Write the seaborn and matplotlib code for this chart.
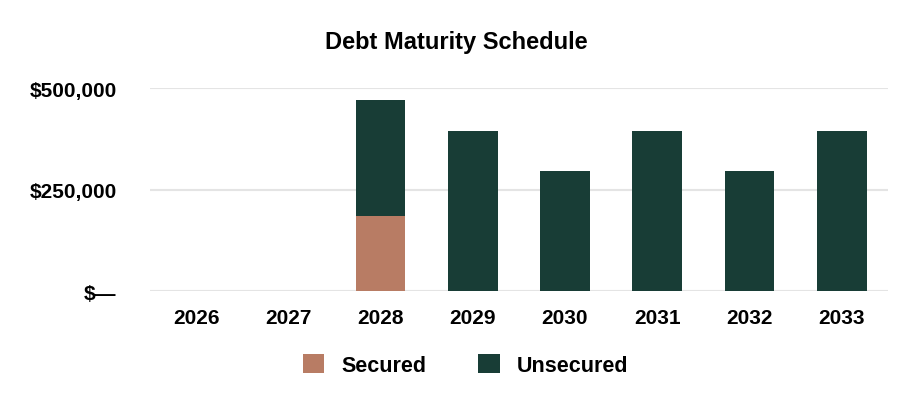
import matplotlib
matplotlib.use("Agg")
import matplotlib.pyplot as plt
import seaborn as sns
import pandas as pd
from matplotlib.patches import Patch
from matplotlib.ticker import FuncFormatter

years = ["2026", "2027", "2028", "2029", "2030", "2031", "2032", "2033"]
secured = [0, 0, 185000, 0, 0, 0, 0, 0]
unsecured = [0, 0, 285000, 395000, 296000, 395000, 296000, 395000]
title = "Debt Maturity Schedule"
series_names = ["Secured", "Unsecured"]
colors = {"Secured": "#B87C64", "Unsecured": "#183D36"}

sns.set_theme(style="white")
plt.rcParams["font.family"] = ["Liberation Sans", "DejaVu Sans"]

df = pd.DataFrame({
    "year": years,
    "secured": secured,
    "unsecured": unsecured,
})
df["total"] = df["secured"] + df["unsecured"]

fig = plt.figure(figsize=(9.2, 4.02), dpi=100)
ax = fig.add_axes([0.163, 0.2724, 0.802, 0.5055])

sns.barplot(data=df, x="year", y="total", color=colors["Unsecured"],
            width=0.54, ax=ax, saturation=1, linewidth=0, zorder=3)
sns.barplot(data=df, x="year", y="secured", color=colors["Secured"],
            width=0.54, ax=ax, saturation=1, linewidth=0, zorder=4)

ax.set_xlim(-0.5, len(years) - 0.5)
ax.set_ylim(0, 500000)
ax.set_yticks([0, 250000, 500000])
ax.yaxis.set_major_formatter(FuncFormatter(lambda v, p: "$\u2014" if v == 0 else f"${v:,.0f}"))
ax.grid(axis="y", color="#e4e4e4", linewidth=1.5, zorder=0)
ax.set_axisbelow(True)
for s in ax.spines.values():
    s.set_visible(False)
ax.tick_params(axis="both", length=0, labelsize=15)
ax.tick_params(axis="y", pad=24)
ax.tick_params(axis="x", pad=12)
for lab in ax.get_xticklabels() + ax.get_yticklabels():
    lab.set_fontweight("bold")
    lab.set_color("black")
ax.set_xlabel("")
ax.set_ylabel("")

fig.text(0.496, 0.895, title, ha="center", va="center", fontsize=17,
         fontweight="bold", color="black")

handles = [Patch(facecolor=colors[n], edgecolor="none", label=n) for n in series_names]
leg = fig.legend(handles=handles, loc="center", bbox_to_anchor=(0.506, 0.0896), ncol=2,
                 frameon=False, handlelength=1.0, handleheight=1.0, handletextpad=0.8,
                 columnspacing=2.4, prop={"weight": "bold", "size": 15.5})
for t in leg.get_texts():
    t.set_color("black")

fig.savefig("out.png", dpi=100)
